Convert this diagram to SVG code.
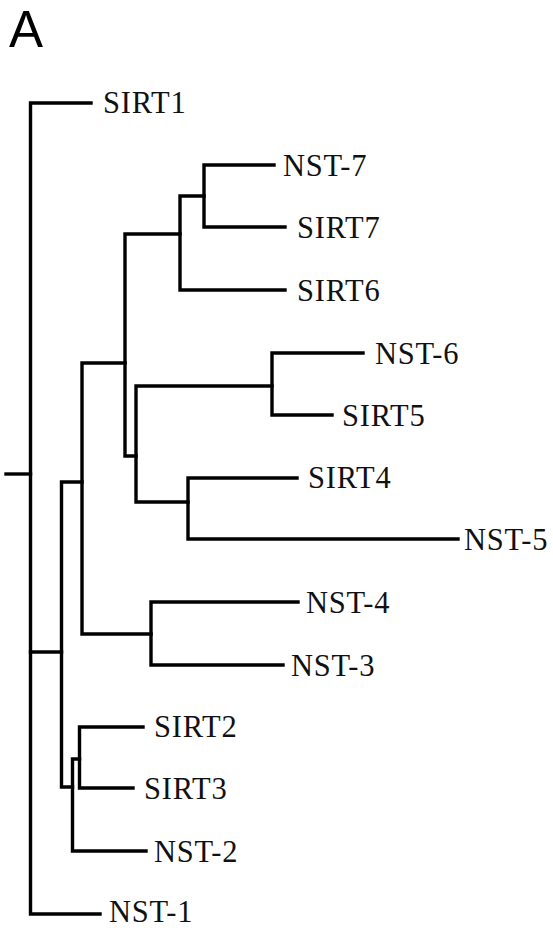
<svg xmlns="http://www.w3.org/2000/svg" width="553" height="928" viewBox="0 0 553 928">
  <style>
    .br { fill: none; stroke: #000; stroke-width: 3.4; stroke-linecap: square; stroke-linejoin: miter; }
    .lab { font-family: "Liberation Serif", "Times New Roman", serif; font-size: 30.5px; letter-spacing: 0.8px; fill: #111; }
    .panel { font-family: "Liberation Sans", Arial, sans-serif; font-size: 51px; fill: #000; }
  </style>
  <rect width="553" height="928" fill="#fff"/>

  <text class="panel" x="9" y="47">A</text>

  <!-- branches: root and internal nodes -->
  <g id="connectors" class="br">
    <!-- root -->
    <path d="M6 474 H30.5"/>
    <path d="M91 103 H30.5 V914 H100"/>
    <path d="M30.5 652 H61.5"/>
    <!-- internal node x=61.5 -->
    <path d="M82 482 H61.5 V787 H72.5"/>
    <!-- internal node x=82 -->
    <path d="M125 363 H82 V634 H151"/>
    <!-- internal node x=125 -->
    <path d="M180 234 H125 V456 H136"/>
    <!-- internal node x=180 -->
    <path d="M204 196 H180 V290 H285"/>
    <!-- internal node x=204 -->
    <path d="M274 165 H204 V227 H285"/>
    <!-- internal node x=136 -->
    <path d="M272 386 H136 V502 H188"/>
    <!-- internal node x=272 -->
    <path d="M363 353 H272 V415 H332"/>
    <!-- internal node x=188 -->
    <path d="M297 478 H188 V539 H458"/>
    <!-- internal node x=151 -->
    <path d="M298 602 H151 V665 H283"/>
    <!-- internal node x=72.5 -->
    <path d="M79.5 759 H72.5 V851 H146"/>
    <!-- internal node x=79.5 -->
    <path d="M143 727 H79.5 V788 H133"/>
  </g>

  <!-- leaves -->
  <g id="SIRT1"><text class="lab" x="103" y="113">SIRT1</text></g>
  <g id="NST-7"><text class="lab" x="283" y="175.5">NST-7</text></g>
  <g id="SIRT7"><text class="lab" x="297" y="238">SIRT7</text></g>
  <g id="SIRT6"><text class="lab" x="297" y="301">SIRT6</text></g>
  <g id="NST-6"><text class="lab" x="375" y="363.5">NST-6</text></g>
  <g id="SIRT5"><text class="lab" x="342" y="426">SIRT5</text></g>
  <g id="SIRT4"><text class="lab" x="308" y="488">SIRT4</text></g>
  <g id="NST-5"><text class="lab" x="464" y="550">NST-5</text></g>
  <g id="NST-4"><text class="lab" x="306" y="613">NST-4</text></g>
  <g id="NST-3"><text class="lab" x="291" y="676">NST-3</text></g>
  <g id="SIRT2"><text class="lab" x="154" y="737">SIRT2</text></g>
  <g id="SIRT3"><text class="lab" x="144" y="799">SIRT3</text></g>
  <g id="NST-2"><text class="lab" x="154" y="861.5">NST-2</text></g>
  <g id="NST-1"><text class="lab" x="109" y="921.5">NST-1</text></g>
</svg>
